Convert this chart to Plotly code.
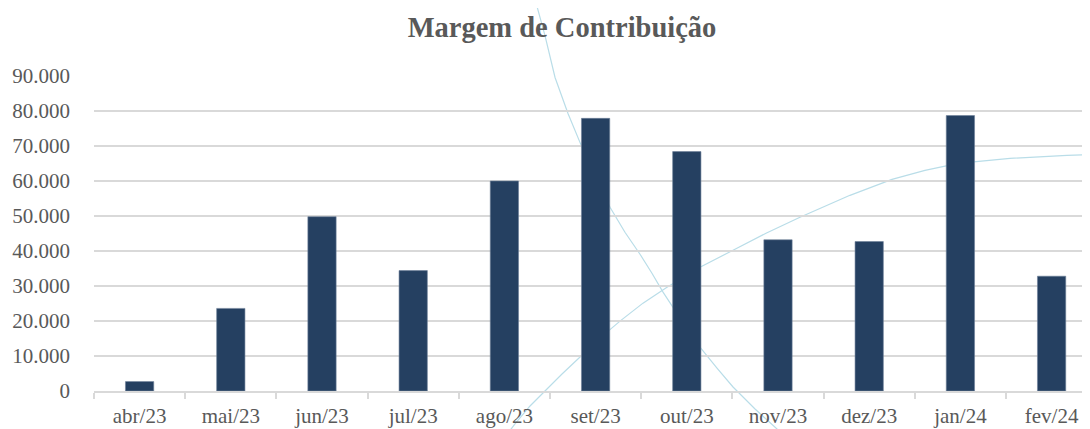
import plotly.graph_objects as go

categories = ["abr/23", "mai/23", "jun/23", "jul/23", "ago/23", "set/23",
              "out/23", "nov/23", "dez/23", "jan/24", "fev/24"]
values = [2700, 23600, 49800, 34400, 60000, 77900, 68400, 43200, 42700, 78700, 32800]
y_ticks = [0, 10000, 20000, 30000, 40000, 50000, 60000, 70000, 80000, 90000]
y_tick_labels = ["0", "10.000", "20.000", "30.000", "40.000", "50.000",
                 "60.000", "70.000", "80.000", "90.000"]

# the page body has an 8px default margin; size the figure so it fits the window
OFF = 8
W, H = 1090 - OFF, 429 - OFF
ML, MR, MT, MB = 94 - OFF, 0, 75.5 - OFF, 38
PW = W - ML - MR
PH = H - MT - MB

# decorative background curves (pixel positions in the window)
deco_a = [(534, -5), (545, 35), (555, 77), (568, 113), (582, 147), (596, 178), (610, 207),
          (625, 232), (640, 254), (652, 273), (663, 292), (682, 321), (700, 347),
          (717, 368), (733, 387), (755, 409), (777, 429), (790, 440)]
deco_b = [(496, 447), (505, 437), (515, 424), (530, 406), (545, 391), (562, 374),
          (580, 357), (600, 338), (620, 321), (643, 303), (667, 287), (700, 267),
          (733, 250), (766, 233), (800, 217), (850, 195), (892, 179), (925, 170),
          (958, 163), (1010, 158), (1067, 155), (1095, 154)]


def to_path(pts):
    out = []
    for i, (px, py) in enumerate(pts):
        x = (px - OFF - ML) / PW
        y = (H - MB - (py - OFF)) / PH
        out.append(("M" if i == 0 else "L") + f"{x:.4f},{y:.4f}")
    return " ".join(out)


fig = go.Figure()
fig.add_trace(go.Bar(
    x=categories, y=values,
    marker=dict(color="#254061", line=dict(color="#6d7f99", width=0.6)),
    width=0.31,
    hoverinfo="x+y",
))

for pts in (deco_a, deco_b):
    fig.add_shape(type="path", path=to_path(pts), xref="paper", yref="paper",
                  line=dict(color="#b9dde8", width=1.2), layer="below")

fig.update_layout(
    width=W, height=H,
    margin=dict(l=ML, r=MR, t=MT, b=MB, pad=0),
    paper_bgcolor="white", plot_bgcolor="rgba(0,0,0,0)",
    showlegend=False,
    title=dict(text="<b>Margem de Contribuição</b>", x=(562 - OFF) / W, xref="container",
               xanchor="center", y=1 - (27 - OFF) / H, yref="container", yanchor="middle",
               font=dict(family="Liberation Serif", size=28.5, color="#595959")),
    font=dict(family="Liberation Serif", size=21, color="#595959"),
)
fig.update_xaxes(
    range=[-0.5, -0.5 + PW / 91.2],
    showline=True, linecolor="#d9d9d9", linewidth=1.5,
    ticks="outside", tickson="boundaries", ticklen=6, tickcolor="#d9d9d9", tickwidth=1.5,
    ticklabelstandoff=5,
    showgrid=False, fixedrange=True,
    tickfont=dict(family="Liberation Serif", size=21, color="#595959"),
)
fig.update_yaxes(
    range=[0, 90000], tickvals=y_ticks, ticktext=y_tick_labels,
    showgrid=True, gridcolor="#d9d9d9", gridwidth=1.5,
    zeroline=False, showline=False, ticks="", ticklabelstandoff=23,
    tickfont=dict(family="Liberation Serif", size=21, color="#595959"),
    fixedrange=True,
)

fig.write_html("out.html")
